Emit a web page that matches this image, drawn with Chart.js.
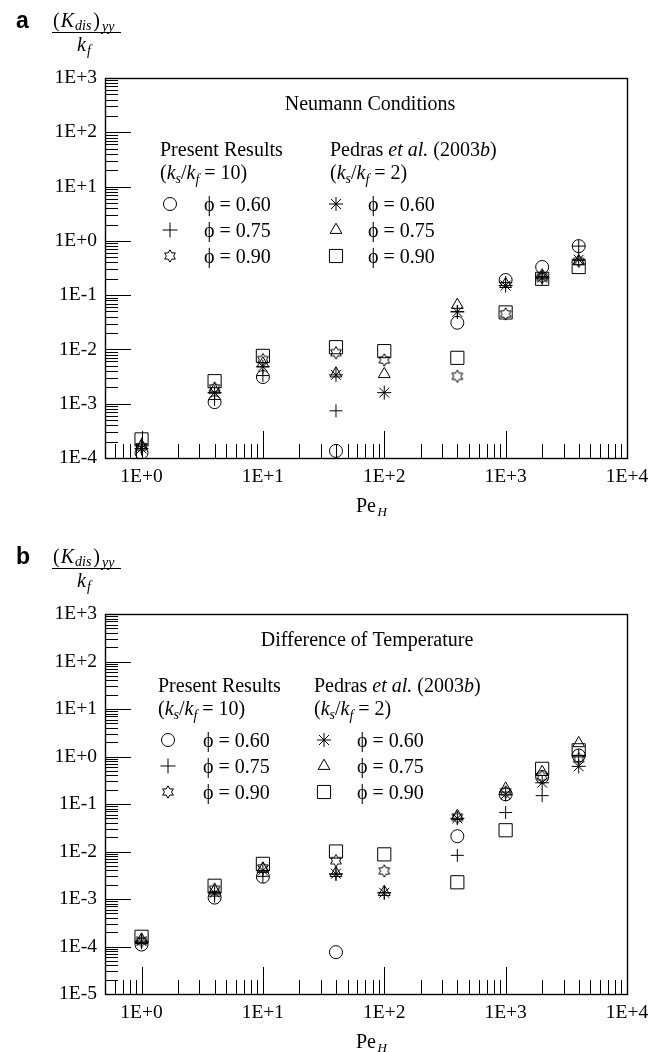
<!DOCTYPE html>
<html><head><meta charset="utf-8">
<script src="https://cdn.jsdelivr.net/npm/chart.js@4.4.0/dist/chart.umd.min.js"></script>
<style>
html,body{margin:0;padding:0;background:#fff;overflow:hidden}
#wrap{position:relative;width:661px;height:1052px;overflow:hidden}
canvas{position:absolute;left:0}
</style></head>
<body><div id="wrap">
<canvas id="ca" width="661" height="536" style="top:0px"></canvas>
<canvas id="cb" width="661" height="536" style="top:536px"></canvas>
</div>
<script>
// ---------- data ----------
const peH = [1, 4, 10, 40, 100, 400, 1000, 2000, 4000];
// panel a: Neumann Conditions
const aPresent060 = [1.25e-4, 1.07e-3, 3.1e-3, 1.35e-4, null, 3.1e-2, 0.19, 0.33, 0.80];
const aPresent075 = [1.8e-4, 1.2e-3, 3.3e-3, 7.4e-4, null, 5.0e-2, 0.17, 0.22, 0.80];
const aPresent090 = [1.6e-4, 1.95e-3, 6.5e-3, 8.7e-3, 6.4e-3, 3.2e-3, 4.5e-2, 0.21, 0.42];
const aPedras060  = [1.5e-4, 1.6e-3, 4.8e-3, 3.4e-3, 1.6e-3, 4.9e-2, 0.15, 0.21, 0.45];
const aPedras075  = [1.7e-4, 1.8e-3, 5.5e-3, 3.6e-3, 3.5e-3, 6.6e-2, 0.16, 0.23, 0.42];
const aPedras090  = [2.2e-4, 2.6e-3, 7.6e-3, 1.1e-2, 9.3e-3, 7.0e-3, 4.8e-2, 0.20, 0.33];
// panel b: Difference of Temperature
const bPresent060 = [1.1e-4, 1.07e-3, 2.95e-3, 7.6e-5, null, 2.1e-2, 0.16, 0.37, 1.05];
const bPresent075 = [1.2e-4, 1.15e-3, 3.0e-3, 3.3e-3, 1.35e-3, 8.3e-3, 6.6e-2, 0.15, 1.05];
const bPresent090 = [1.3e-4, 1.6e-3, 4.5e-3, 6.4e-3, 3.9e-3, 5.2e-2, 0.18, 0.38, 0.90];
const bPedras060  = [1.3e-4, 1.35e-3, 4.0e-3, 3.4e-3, 1.35e-3, 5.0e-2, 0.16, 0.28, 0.62];
const bPedras075  = [1.4e-4, 1.5e-3, 4.3e-3, 3.5e-3, 1.4e-3, 5.6e-2, 0.21, 0.47, 1.9];
const bPedras090  = [1.6e-4, 1.9e-3, 5.5e-3, 1.0e-2, 8.7e-3, 2.25e-3, 2.8e-2, 0.55, 1.35];
// ticks
const xTickVals = [1, 10, 100, 1000, 10000];
const xTickLabels = ['1E+0', '1E+1', '1E+2', '1E+3', '1E+4'];
const yTickValsA = [1e-4, 1e-3, 1e-2, 1e-1, 1, 10, 100, 1000];
const yTickLabelsA = ['1E-4', '1E-3', '1E-2', '1E-1', '1E+0', '1E+1', '1E+2', '1E+3'];
const yTickValsB = [1e-5, 1e-4, 1e-3, 1e-2, 1e-1, 1, 10, 100, 1000];
const yTickLabelsB = ['1E-5', '1E-4', '1E-3', '1E-2', '1E-1', '1E+0', '1E+1', '1E+2', '1E+3'];
const phiLabels = ['\u03D5 = 0.60', '\u03D5 = 0.75', '\u03D5 = 0.90'];

// ---------- styles ----------
const SERIF = '"Liberation Serif", "Times New Roman", serif';
const HEX_R = 6.2;
function makeHexagram() {
  const c = document.createElement('canvas');
  c.width = 16; c.height = 16;
  const g = c.getContext('2d');
  g.strokeStyle = '#000'; g.lineWidth = 1;
  g.beginPath();
  const ri = HEX_R / Math.sqrt(3);
  for (let i = 0; i < 12; i++) {
    const ang = -Math.PI / 2 + i * Math.PI / 6;
    const r = i % 2 === 0 ? HEX_R : ri;
    const px = 8 + r * Math.cos(ang), py = 8 + r * Math.sin(ang);
    if (i === 0) g.moveTo(px, py); else g.lineTo(px, py);
  }
  g.closePath(); g.stroke();
  return c;
}
const hexImg = makeHexagram();
const MK = {
  circle: {style: 'circle', r: 6.5},
  cross: {style: 'cross', r: 6.5},
  hex: {style: hexImg, r: 7},
  star: {style: 'star', r: 7},
  triangle: {style: 'triangle', r: 6.8},
  rect: {style: 'rect', r: 9.3}
};

function pts(arr) {
  const out = [];
  peH.forEach((x, i) => { if (arr[i] !== null) out.push({x: x, y: arr[i]}); });
  return out;
}
function ds(arr, mk) {
  return {
    data: pts(arr), pointStyle: MK[mk].style, pointRadius: MK[mk].r, pointHoverRadius: MK[mk].r,
    borderColor: '#000', backgroundColor: 'rgba(0,0,0,0)', pointBorderWidth: 1, borderWidth: 1, showLine: false
  };
}

// ---------- drawing helpers ----------
function rich(ctx, x, y, parts, align) {
  let w = 0;
  parts.forEach(p => { ctx.font = p[1]; w += ctx.measureText(p[0]).width + (p[3] || 0); });
  let cx = align === 'center' ? x - w / 2 : x;
  parts.forEach(p => { ctx.font = p[1]; ctx.fillText(p[0], cx, y + (p[2] || 0)); cx += ctx.measureText(p[0]).width + (p[3] || 0); });
  return w;
}
function marker(ctx, mk, x, y) {
  const r = MK[mk].r;
  ctx.beginPath();
  if (mk === 'circle') { ctx.arc(x, y, r, 0, Math.PI * 2); }
  else if (mk === 'cross') { ctx.moveTo(x - r - 1, y); ctx.lineTo(x + r + 1, y); ctx.moveTo(x, y - r - 1); ctx.lineTo(x, y + r + 1); }
  else if (mk === 'star') {
    ctx.moveTo(x - r, y); ctx.lineTo(x + r, y); ctx.moveTo(x, y - r); ctx.lineTo(x, y + r);
    const o = r * Math.SQRT1_2;
    ctx.moveTo(x - o, y - o); ctx.lineTo(x + o, y + o); ctx.moveTo(x + o, y - o); ctx.lineTo(x - o, y + o);
  }
  else if (mk === 'triangle') {
    let a = 0;
    ctx.moveTo(x + Math.sin(a) * r, y - Math.cos(a) * r);
    a += 2 * Math.PI / 3; ctx.lineTo(x + Math.sin(a) * r, y - Math.cos(a) * r);
    a += 2 * Math.PI / 3; ctx.lineTo(x + Math.sin(a) * r, y - Math.cos(a) * r);
    ctx.closePath();
  }
  else if (mk === 'rect') { const s = Math.SQRT1_2 * r; ctx.rect(x - s, y - s, 2 * s, 2 * s); }
  else if (mk === 'hex') { ctx.drawImage(hexImg, x - 8, y - 8); return; }
  ctx.stroke();
}

const axesPlugin = {
  id: 'axesPlugin',
  beforeDatasetsDraw(chart) {
    const {ctx, chartArea: {left, right, top, bottom}, scales: {x, y}} = chart;
    ctx.save();
    ctx.strokeStyle = '#000'; ctx.lineWidth = 1;
    ctx.beginPath();
    const e0 = Math.round(Math.log10(y.min)), e1 = Math.round(Math.log10(y.max));
    for (let e = e0; e <= e1; e++) {
      for (let k = 1; k <= 9; k++) {
        const v = k * Math.pow(10, e);
        if (v > y.max * 1.0001) break;
        const py = Math.round(y.getPixelForValue(v)) + 0.5;
        ctx.moveTo(left, py); ctx.lineTo(left + (k === 1 ? 26 : 13), py);
      }
    }
    for (let e = -1; e <= 4; e++) {
      for (let k = 1; k <= 9; k++) {
        const v = k * Math.pow(10, e);
        if (v < x.min * 0.999 || v > x.max * 1.0001) continue;
        const px = Math.round(x.getPixelForValue(v)) + 0.5;
        ctx.moveTo(px, bottom); ctx.lineTo(px, bottom - (k === 1 ? 27 : 14));
      }
    }
    ctx.stroke();
    ctx.lineWidth = 1.4;
    ctx.strokeRect(Math.round(left) + 0.5, Math.round(top) + 0.5, Math.round(right - left), Math.round(bottom - top));
    ctx.restore();
  },
  afterDraw(chart, args, o) {
    const ctx = chart.ctx;
    ctx.save();
    ctx.fillStyle = '#000'; ctx.strokeStyle = '#000'; ctx.lineWidth = 1;
    ctx.textBaseline = 'alphabetic';
    // panel letter
    ctx.font = 'bold 23px "Liberation Sans", Arial, sans-serif';
    ctx.fillText(o.letter, 16, 28);
    // y title fraction
    const big = '20px ' + SERIF, bigI = 'italic 20px ' + SERIF, smI = 'italic 14px ' + SERIF;
    rich(ctx, 53, 27, [['(', big, 0, 1], ['K', bigI, 0, 1], ['dis', smI, 3, 2], [')', big, 0, 2], ['yy', smI, 4]]);
    ctx.beginPath(); ctx.moveTo(52, 32.5); ctx.lineTo(121, 32.5); ctx.stroke();
    rich(ctx, 84, 51, [['k', bigI, 0, 1], ['f', smI, 4]], 'center');
    // x title
    rich(ctx, 356, 512, [['Pe', '20px ' + SERIF], [' ', '6px ' + SERIF], ['H', 'italic 13px ' + SERIF, 4]]);
    // panel title
    ctx.font = '20px ' + SERIF; ctx.textAlign = 'center';
    ctx.fillText(o.title, o.titleX, 110);
    ctx.textAlign = 'left';
    // legend
    const F = '20px ' + SERIF, FI = 'italic 20px ' + SERIF, FS = 'italic 14px ' + SERIF;
    ctx.font = F;
    ctx.fillText('Present Results', o.lx, 156);
    rich(ctx, o.lx, 179, [['(', F], ['k', FI], ['s', FS, 4], ['/', F], ['k', FI], ['f', FS, 5], [' = 10)', F]]);
    rich(ctx, o.rx, 156, [['Pedras ', F], ['et al.', FI], [' (2003', F], ['b', FI], [')', F]]);
    rich(ctx, o.rx, 179, [['(', F], ['k', FI], ['s', FS, 4], ['/', F], ['k', FI], ['f', FS, 5], [' = 2)', F]]);
    const rows = [204, 230, 256];
    const leftMk = ['circle', 'cross', 'hex'], rightMk = ['star', 'triangle', 'rect'];
    rows.forEach((ry, i) => {
      marker(ctx, leftMk[i], o.lmx, ry);
      marker(ctx, rightMk[i], o.rmx, ry);
      ctx.font = F;
      ctx.fillText(phiLabels[i], o.ltx, ry + 7);
      ctx.fillText(phiLabels[i], o.rtx, ry + 7);
    });
    ctx.restore();
  }
};

function makePanel(id, sets, yVals, yLabels, opts) {
  const tickFont = {family: SERIF, size: 19.5};
  new Chart(document.getElementById(id), {
    type: 'scatter',
    data: {datasets: [
      ds(sets[0], 'circle'), ds(sets[1], 'cross'), ds(sets[2], 'hex'),
      ds(sets[3], 'star'), ds(sets[4], 'triangle'), ds(sets[5], 'rect')
    ]},
    options: {
      responsive: false, animation: false, events: [],
      layout: {padding: {left: 0, top: 78, right: 34, bottom: 0}},
      plugins: {legend: {display: false}, tooltip: {enabled: false}, axesPlugin: opts},
      scales: {
        x: {
          type: 'logarithmic', min: 0.5, max: 10000,
          grid: {display: false, drawTicks: false}, border: {display: false},
          afterFit: s => { s.height = 78; },
          afterBuildTicks: s => { s.ticks = xTickVals.map(v => ({value: v, major: true})); },
          ticks: {autoSkip: false, maxRotation: 0, padding: 7, color: '#000', font: tickFont,
            callback: v => { const i = xTickVals.findIndex(t => Math.abs(t - v) < t * 1e-6); return i >= 0 ? xTickLabels[i] : null; }}
        },
        y: {
          type: 'logarithmic', min: yVals[0], max: yVals[yVals.length - 1],
          grid: {display: false, drawTicks: false}, border: {display: false},
          afterFit: s => { s.width = 105; },
          afterBuildTicks: s => { s.ticks = yVals.map(v => ({value: v, major: true})); },
          ticks: {autoSkip: false, padding: 8, color: '#000', font: tickFont,
            callback: v => { const i = yVals.findIndex(t => Math.abs(t - v) < t * 1e-6); return i >= 0 ? yLabels[i] : null; }}
        }
      }
    },
    plugins: [axesPlugin]
  });
}

makePanel('ca', [aPresent060, aPresent075, aPresent090, aPedras060, aPedras075, aPedras090],
  yTickValsA, yTickLabelsA,
  {letter: 'a', title: 'Neumann Conditions', titleX: 370, lx: 160, lmx: 170, ltx: 204, rx: 330, rmx: 336, rtx: 368});
makePanel('cb', [bPresent060, bPresent075, bPresent090, bPedras060, bPedras075, bPedras090],
  yTickValsB, yTickLabelsB,
  {letter: 'b', title: 'Difference of Temperature', titleX: 367, lx: 158, lmx: 168, ltx: 203, rx: 314, rmx: 324, rtx: 357});
</script>
</body></html>
